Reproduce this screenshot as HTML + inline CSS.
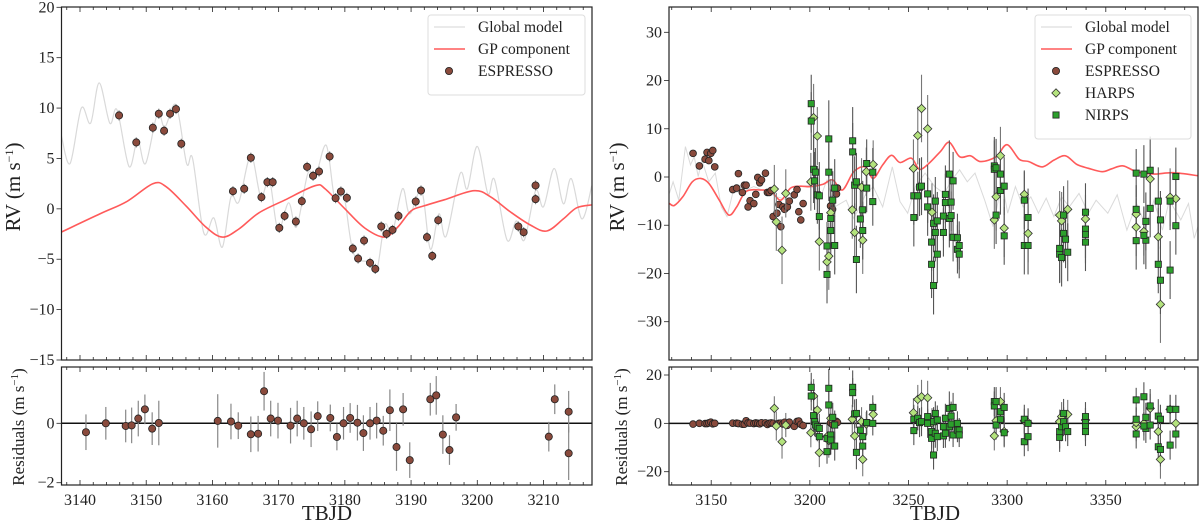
<!DOCTYPE html>
<html><head><meta charset="utf-8">
<style>
html,body{margin:0;padding:0;background:#fff;}
svg, svg text{font-family:"Liberation Serif","DejaVu Serif",serif;}
</style></head>
<body>
<svg id="fig" width="1200" height="524" viewBox="0 0 1200 524" xmlns="http://www.w3.org/2000/svg" font-family="Liberation Serif, serif"></svg>
<script>
// ===== LEFT PANEL DATA =====
const espLDays=[3145.9,3148.5,3151.0,3151.9,3152.7,3153.6,3154.5,3155.3,3163.1,3164.8,3165.8,3167.4,3168.3,3169.1,3170.1,3170.9,3172.6,3173.5,3174.3,3175.2,3176.1,3177.7,3178.6,3179.4,3180.3,3181.2,3182.0,3182.9,3183.8,3184.6,3185.5,3186.3,3187.2,3188.1,3190.7,3191.5,3192.4,3193.2,3194.1,3206.2,3207.0,3208.8,3208.8];
const espLRV=[9.27,6.59,8.05,9.44,7.75,9.44,9.9,6.46,1.75,1.99,5.07,1.16,2.65,2.65,-1.89,-0.70,-1.26,0.76,4.17,3.28,3.71,5.2,1.06,1.72,1.09,-3.94,-4.93,-3.15,-5.36,-5.96,-1.75,-2.48,-2.09,-0.70,0.73,1.82,-2.81,-4.67,-1.13,-1.75,-2.32,2.32,0.96];
const espResDays=[3140.9,3143.9,3146.9,3147.8,3148.8,3149.8,3150.9,3151.9,3160.8,3162.8,3163.9,3165.8,3166.9,3167.8,3168.8,3169.9,3171.8,3172.8,3173.8,3174.9,3175.9,3177.8,3178.8,3179.8,3180.8,3181.9,3182.8,3183.8,3184.8,3185.8,3186.8,3187.8,3188.8,3189.8,3192.9,3193.8,3194.8,3195.8,3196.8,3210.8,3211.7,3213.8,3213.8];
const espResVals=[-0.30,0,-0.09,-0.07,0.16,0.47,-0.18,0.01,0.08,0.06,-0.08,-0.37,-0.35,1.08,0.16,0.09,-0.08,0.16,0,-0.2,0.24,0.18,-0.46,0,0.18,0.02,-0.33,0,0.09,-0.25,0.44,-0.80,0.47,-1.24,0.81,0.94,-0.38,-0.90,0.20,-0.45,0.81,0.39,-1.01];
const espResErr=[0.6,0.55,0.55,0.6,0.6,0.5,0.55,0.75,0.9,0.6,0.45,0.6,0.6,0.65,0.6,0.6,0.6,0.6,0.55,0.6,0.5,0.45,0.45,0.55,0.5,0.6,0.6,0.55,0.6,0.5,0.7,0.8,0.55,0.6,0.55,0.65,0.65,0.5,0.45,0.5,0.5,0.7,0.9];
const espLErr=0.5;
const gpLDays=[3137.2,3143,3147,3151,3153,3156,3159,3161.5,3164,3167,3171,3175.5,3177,3180,3183,3186,3188,3190,3192,3195,3199.5,3202,3205,3208,3210.5,3213,3215,3217.4];
const gpLVals=[-2.3,-0.5,0.7,2.5,2.2,0.3,-1.8,-2.8,-2.0,-0.4,0.9,2.3,2.0,0.0,-1.9,-2.8,-1.8,-0.2,0.3,0.9,1.8,1.2,-0.3,-1.6,-2.2,-1.0,0.1,0.4];
const glLDays=[3137.2,3138.5,3140.2,3141.6,3142.9,3144.5,3145.6,3147.4,3148.7,3149.9,3151.7,3152.8,3154.5,3156.1,3157.0,3158.7,3160.2,3161.5,3162.8,3164.0,3165.8,3167.3,3168.6,3169.9,3171.5,3172.7,3174.4,3175.6,3177.2,3178.5,3179.8,3181.3,3183.7,3184.8,3186.0,3187.2,3188.7,3189.8,3191.6,3192.9,3194.2,3195.3,3197.4,3198.5,3200.0,3201.6,3202.6,3204.5,3205.9,3207.1,3208.8,3210.0,3211.6,3213.0,3214.2,3215.8,3217.3];
const glLVals=[7.2,4.5,10.0,8.5,12.5,8.5,9.8,4.2,6.8,4.5,9.5,8.1,10.3,4.5,5.0,-2.4,-0.9,-3.8,1.2,0.7,5.3,1.2,2.9,-2.1,0.6,-1.8,3.5,3.3,6.3,0.9,1.5,-4.4,-5.3,-6.2,-1.6,-2.3,2.0,-0.5,1.8,-4.0,-0.5,-2.7,3.5,2.0,6.2,1.5,2.9,-3.1,-1.2,-3.1,1.8,0.2,4.0,0.5,3.0,-1.0,2.3];
const lXTicks=[3140,3150,3160,3170,3180,3190,3200,3210];
const lYTicks=[-15,-10,-5,0,5,10,15,20];
const lRTicks=[-2,0];

// ===== RIGHT PANEL DATA =====
const espRDays=[3140.8,3144.0,3146.9,3147.9,3148.8,3149.8,3150.8,3151.8,3160.9,3162.9,3163.8,3165.8,3166.8,3167.7,3168.7,3169.7,3171.6,3172.6,3173.6,3174.6,3175.5,3177.5,3178.5,3179.4,3180.4,3181.4,3183.3,3184.3,3185.3,3186.3,3187.2,3188.6,3189.6,3192.1,3193.5,3194.4,3195.4,3196.6,3210.5,3211.5,3213.5,3214.0];
const espRRV=[4.9,2.3,3.7,5.1,3.4,4.9,5.5,2.1,-2.6,-2.3,0.7,-3.2,-1.7,-1.7,-6.2,-4.9,-5.5,-3.6,-0.1,-1.2,-0.6,0.8,-3.2,-3.2,-2.8,-8.2,-7.5,-5.7,-10.3,-6.2,-6.7,-6.2,-5.0,-3.7,-2.6,-7.2,-8.9,-5.5,-6.0,-6.7,-3.5,-2.3];
const harpsDays=[3182.0,3183.0,3187.8,3185.9,3200.5,3201.9,3203.8,3204.8,3208.7,3209.6,3210.6,3221.5,3222.7,3226.2,3226.8,3228.6,3232.1,3252.5,3254.7,3256.6,3259.7,3261.9,3293.5,3294.4,3296.6,3298.5,3308.7,3310.6,3326.6,3327.6,3330.7,3339.7,3365.4,3365.4,3369.3,3372.5,3376.6,3377.7,3382.6,3385.5];
const harpsRV=[-2.5,-9.3,-3.4,-15.2,-1.0,12.3,8.5,-13.4,-17.6,-16.4,-7.4,-6.8,-11.5,-2.1,-13.1,1.1,2.6,1.8,8.6,14.2,10.0,-7.3,-8.9,-4.1,4.4,-10.6,-3.6,-11.7,-7.9,-9.1,-6.7,-8.7,-7.7,-10.4,-11.3,-0.4,-12.4,-26.4,-4.2,-4.5];
const nirpsDays=[3200.7,3200.7,3201.9,3202.4,3202.8,3203.8,3204.8,3204.8,3208.7,3208.7,3209.6,3209.6,3210.6,3210.6,3211.6,3212.6,3212.6,3221.7,3221.7,3222.7,3223.6,3223.6,3225.6,3226.8,3226.8,3228.8,3228.8,3231.9,3231.9,3252.7,3252.7,3254.7,3255.6,3256.6,3259.7,3259.7,3261.7,3261.7,3262.7,3262.7,3263.6,3263.6,3264.6,3264.6,3267.7,3267.7,3268.7,3268.7,3270.7,3270.7,3271.6,3271.6,3272.6,3272.6,3274.8,3274.8,3275.7,3275.7,3293.5,3293.5,3294.4,3294.4,3296.6,3296.6,3298.5,3298.5,3308.7,3308.7,3310.6,3310.6,3326.6,3326.6,3327.6,3328.6,3328.6,3329.6,3330.7,3339.7,3339.7,3339.7,3339.7,3365.4,3365.4,3365.4,3369.3,3370.3,3370.3,3369.3,3372.5,3372.5,3376.6,3376.6,3377.7,3377.7,3382.6,3382.6,3385.5,3385.5];
const nirpsRV=[15.2,11.6,1.6,-0.8,1.0,-3.7,-3.9,-8.2,-14.3,-20.2,7.9,1.0,-8.6,-11.1,-4.8,-14.2,-2.3,7.5,5.2,-1.7,-1.0,-17.1,-8.7,-6.8,-11.1,2.8,-2.3,1.0,-5.1,-3.9,-8.4,-3.9,-2.1,-1.9,-3.5,-6.2,-13.5,-18.1,-9.6,-22.5,-5.0,-11.5,-9.1,-16.0,-11.5,-8.1,-5.3,-3.6,0.6,-8.6,-5.2,-8.0,-0.8,-12.5,-12.6,-15.0,-14.2,-16.0,2.3,1.6,1.9,-7.9,0.6,-2.8,-1.9,-12.2,-4.8,-14.2,-8.4,-14.2,-16.0,-14.8,-16.7,-7.9,-11.7,-12.9,-15.6,-7.3,-10.8,-11.9,-13.5,0.8,-6.7,-13.2,0.6,-9.2,-13.1,-12.1,1.4,-6.5,-5.0,-18.1,-8.9,-21.4,-5.0,-19.3,0.1,-10.1];
const nirpsResVals=[14.9,11.3,3.2,0.7,-0.7,-1.4,-5.5,-2.1,-11.7,-6.2,14.5,7.6,-4.8,-6.9,2.5,-9.4,-0.7,14.9,12.7,3.9,4.1,-12.0,-2.8,-5.5,-9.4,0.3,0.3,6.6,0,-3.0,1.7,2.1,0.3,0.7,2.8,0,-6.2,-3.4,-13.1,0.7,4.1,-4.1,1.4,-5.5,-5.2,-1.4,2.1,-4.1,6.2,-1.4,3.0,-0.3,6.6,-4.8,0,-2.8,-2.8,-4.8,9.0,7.2,9.0,-0.7,4.8,1.7,6.6,-3.9,1.7,-7.6,0,-5.5,-5.8,-3.4,-1.4,4.1,0.7,-1.4,-3.4,2.8,0.3,-1.4,-3.4,9.7,1.7,-4.4,11.0,2.5,-2.1,-1.1,7.2,-0.7,3.0,-9.7,1.7,-10.8,5.8,-9.0,5.8,-4.4];
const harpsResVals=[6.2,-1.1,-0.7,-7.6,-3.9,11.3,5.5,-12.1,-5.5,-7.2,2.1,1.7,-5.2,0.7,-14.9,-0.3,3.7,4.4,9.9,11.0,10.6,0.3,-5.2,1.1,9.0,-3.4,1.1,0.3,0.7,2.8,3.7,1.4,-1.4,0.3,0,6.2,-3.4,-14.9,5.8,0];
const nirpsErr=[6,6,7,6,5,6,7,6,5,6,8,6,6,6,6,6,6,7,6,6,6,7,6,6,6,5,5,5,5,6,6,5,6,6,6,6,6,7,6,6,5,6,6,6,5,5,6,6,7,6,6,5,6,5,5,5,5,5,6,6,6,6,5,5,6,6,6,6,6,6,6,7,6,6,6,6,6,6,6,6,6,5,5,6,6,6,6,6,7,6,7,6,6,7,6,6,6,6];
const harpsErr=[5,6,5,7,6,7,6,6,6,7,7,6,6,6,7,5,5,6,6,7,7,6,6,7,6,6,5,6,5,6,6,5,6,6,5,6,6,8,6,6];
const gpRDays=[3128.8,3131.3,3135.6,3140.4,3144.7,3148.8,3154.1,3158.9,3162.9,3167.7,3175.5,3180.4,3185.3,3190.2,3195.0,3200.5,3206.7,3211.6,3216.5,3222.3,3228.2,3232.1,3236.9,3241.4,3245.7,3251.5,3255.5,3260.3,3266.2,3270.7,3275.9,3281.4,3286.6,3294.4,3299.9,3306.1,3311.0,3317.8,3323.7,3329.5,3335.4,3341.2,3348.1,3353.0,3358.8,3365.6,3374.4,3384.2,3397.8];
const gpRVals=[-5.5,-5.9,-4.1,-1.0,-0.3,-1.3,-4.8,-7.9,-6.2,-3.0,-2.7,-3.0,-4.8,-2.3,-1.9,-2.0,-1.5,-0.6,-2.7,1.1,2.1,-0.3,2.5,4.5,3.0,3.9,1.6,2.8,5.3,7.2,4.2,4.4,3.2,4.2,6.7,3.7,3.2,2.1,3.5,4.4,2.6,1.8,1.1,1.7,2.3,1.1,0.6,0.9,0.2];
const glRDays=[3128.8,3130.7,3133.6,3136.9,3139.5,3141.4,3143.4,3145.3,3148.8,3152.1,3155.1,3158.0,3160.9,3163.8,3167.7,3171.6,3177.5,3183.3,3189.2,3195.0,3200.9,3204.8,3208.7,3212.6,3218.4,3222.3,3228.2,3232.1,3236.9,3241.8,3245.7,3249.6,3253.5,3258.4,3263.3,3268.1,3272.0,3275.9,3279.8,3283.7,3288.6,3292.9,3297.4,3300.3,3304.2,3308.1,3312.0,3315.9,3319.8,3323.7,3327.6,3331.5,3336.4,3341.2,3345.1,3351.0,3355.8,3360.7,3365.6,3370.5,3374.4,3378.7,3382.2,3388.0,3391.9,3394.8,3397.8];
const glRVals=[-3.4,-1.0,-4.8,6.3,2.5,4.2,0.1,3.5,-1.0,0.8,-6.2,-8.2,-3.4,-3.0,-2.7,-2.0,-3.0,-4.1,-4.8,-2.0,-1.7,-4.8,-0.6,-6.2,-4.8,-8.6,-3.7,-2.0,-6.2,2.1,-5.1,-7.5,-2.0,0.8,-2.0,-3.4,-0.6,1.5,-1.0,0.8,-4.8,-10.3,-1.0,-7.5,-2.0,-6.2,-4.1,-7.5,-4.4,-8.2,-4.1,-6.2,-3.4,-7.5,-4.8,-7.5,-3.7,-11.0,-5.5,-10.3,-4.8,-11.0,-4.8,-8.9,-5.5,-12.7,-8.9];
const rXTicks=[3150,3200,3250,3300,3350];
const rYTicks=[-30,-20,-10,0,10,20,30];
const rRTicks=[-20,0,20];

// ===== DRAWING =====
const NS="http://www.w3.org/2000/svg";
const FONT='Liberation Serif, DejaVu Serif, serif';
const svg=document.getElementById('fig');
function mk(tag,attrs,parent){const e=document.createElementNS(NS,tag);for(const k in attrs)e.setAttribute(k,attrs[k]);if(tag==='text')e.setAttribute('font-family',FONT);(parent||svg).appendChild(e);return e;}
function lin(d0,d1,p0,p1){return v=>p0+(v-d0)/(d1-d0)*(p1-p0);}
function smoothPath(xs,ys,sx,sy){
  const P=xs.map((x,i)=>[sx(x),sy(ys[i])]);
  let d='M'+P[0][0].toFixed(1)+','+P[0][1].toFixed(1);
  for(let i=0;i<P.length-1;i++){
    const p0=P[i-1]||P[i],p1=P[i],p2=P[i+1],p3=P[i+2]||p2;
    const c1=[p1[0]+(p2[0]-p0[0])/6,p1[1]+(p2[1]-p0[1])/6];
    const c2=[p2[0]-(p3[0]-p1[0])/6,p2[1]-(p3[1]-p1[1])/6];
    d+=' C'+c1[0].toFixed(1)+','+c1[1].toFixed(1)+' '+c2[0].toFixed(1)+','+c2[1].toFixed(1)+' '+p2[0].toFixed(1)+','+p2[1].toFixed(1);
  }
  return d;
}
function clip(id,x,y,w,h){const cp=mk('clipPath',{id:id});mk('rect',{x:x,y:y,width:w,height:h},cp);}
const BROWN='#8a4a3c', GREEN='#2ca02c', LGREEN='#b4e37d';

function circle(g,x,y,r,fill){return mk('circle',{cx:x,cy:y,r:r,fill:fill,stroke:'#222','stroke-width':0.8},g);}
function square(g,x,y,s,fill){return mk('rect',{x:x-s/2,y:y-s/2,width:s,height:s,fill:fill,stroke:'#222','stroke-width':0.8},g);}
function diamond(g,x,y,s,fill){return mk('polygon',{points:`${x},${y-s} ${x+s},${y} ${x},${y+s} ${x-s},${y}`,fill:fill,stroke:'#333','stroke-width':0.8},g);}

function frame(x0,x1,y0,y1,name){const r=mk('rect',{x:x0,y:y0,width:x1-x0,height:y1-y0,fill:'none',stroke:'#222','stroke-width':1.2});}

function xTicks(sx,y0,y1,major,minorStep,dmin,dmax,labels){
  for(let t=Math.ceil(dmin/minorStep)*minorStep;t<=dmax;t+=minorStep){
    const isMaj=major.includes(t);const len=isMaj?5:3;const x=sx(t);
    mk('line',{x1:x,x2:x,y1:y1,y2:y1-len,stroke:'#222','stroke-width':0.8});
    mk('line',{x1:x,x2:x,y1:y0,y2:y0+len,stroke:'#222','stroke-width':0.8});
  }
  if(labels){major.forEach(t=>{const tx=mk('text',{x:sx(t),y:y1+20,'font-size':16,'text-anchor':'middle',fill:'#222'});tx.textContent=t;
    });}
}
function yTicks(sy,x0,ticks){
  ticks.forEach(t=>{const y=sy(t);mk('line',{x1:x0,x2:x0-5,y1:y,y2:y,stroke:'#222','stroke-width':0.8});
    const tx=mk('text',{x:x0-7,y:y+5,'font-size':16,'text-anchor':'end',fill:'#222'});tx.textContent=(t<0?'\u2212'+(-t):t);
    });
}
function vlabel(cx,cy,html,name,size){const t=mk('text',{x:cx,y:cy,'font-size':size,'text-anchor':'middle',fill:'#222',transform:`rotate(-90 ${cx} ${cy})`});t.innerHTML=html;}

// ---------- LEFT ----------
const L={x0:61.5,x1:592,y0:7,y1:360,r0:367,r1:485};
const lsx=lin(3140,3210,80,543.5);
const lSy=lin(-15,20,360,7.3);
const lRy=lin(-2,0,482.7,423.3);
clip('cL',L.x0,L.y0,L.x1-L.x0,L.y1-L.y0);clip('cLR',L.x0,L.r0,L.x1-L.x0,L.r1-L.r0);
let g=mk('g',{'clip-path':'url(#cL)'});
let p=mk('path',{d:smoothPath(glLDays,glLVals,lsx,lSy),fill:'none',stroke:'#d9d9d9','stroke-width':1.2},g);

p=mk('path',{d:smoothPath(gpLDays,gpLVals,lsx,lSy),fill:'none',stroke:'#ff5a5a','stroke-width':1.6},g);

espLDays.forEach((d,i)=>{const x=lsx(d);mk('line',{x1:x,x2:x,y1:lSy(espLRV[i]-espLErr),y2:lSy(espLRV[i]+espLErr),stroke:'#888','stroke-width':1.2},g);
  const c=circle(g,x,lSy(espLRV[i]),3.6,BROWN);});
frame(L.x0,L.x1,L.y0,L.y1,'left-rv-axes');
xTicks(lsx,L.y0,L.y1,lXTicks,2,3138,3217,false);
yTicks(lSy,L.x0,lYTicks);
g=mk('g',{'clip-path':'url(#cLR)'});
mk('line',{x1:L.x0,x2:L.x1,y1:lRy(0),y2:lRy(0),stroke:'#111','stroke-width':1.5},g);
espResDays.forEach((d,i)=>{const x=lsx(d);mk('line',{x1:x,x2:x,y1:lRy(espResVals[i]-espResErr[i]),y2:lRy(espResVals[i]+espResErr[i]),stroke:'#888','stroke-width':1.2},g);
  const c=circle(g,x,lRy(espResVals[i]),3.6,BROWN);});
frame(L.x0,L.x1,L.r0,L.r1,'left-residual-axes');
xTicks(lsx,L.r0,L.r1,lXTicks,2,3138,3217,true);
yTicks(lRy,L.x0,lRTicks);
vlabel(20,187,'RV (m s<tspan dy="-7" font-size="12">\u22121</tspan><tspan dy="7">)</tspan>','left-y-axis-title',21);
vlabel(24,427,'Residuals (m s<tspan dy="-6" font-size="11">\u22121</tspan><tspan dy="6">)</tspan>','left-residual-axis-title',17);
let t=mk('text',{x:327,y:520,'font-size':21,'text-anchor':'middle',fill:'#222'});t.textContent='TBJD';

// ---------- RIGHT ----------
const R={x0:669,x1:1198,y0:7,y1:360,r0:367,r1:485};
const rsx=lin(3150,3350,711.2,1105.8);
const rSy=lin(-30,30,321.7,32.3);
const rRy=lin(-20,20,471.7,375);
clip('cR',R.x0,R.y0,R.x1-R.x0,R.y1-R.y0);clip('cRR',R.x0,R.r0,R.x1-R.x0,R.r1-R.r0);
g=mk('g',{'clip-path':'url(#cR)'});
p=mk('path',{d:'M'+glRDays.map((d,i)=>rsx(d).toFixed(1)+','+rSy(glRVals[i]).toFixed(1)).join(' L'),fill:'none',stroke:'#dadada','stroke-width':1},g);

p=mk('path',{d:smoothPath(gpRDays,gpRVals,rsx,rSy),fill:'none',stroke:'#ff5a5a','stroke-width':1.6},g);

espRDays.forEach((d,i)=>{const c=circle(g,rsx(d),rSy(espRRV[i]),3.4,BROWN);});
harpsDays.forEach((d,i)=>{const x=rsx(d);mk('line',{x1:x,x2:x,y1:rSy(harpsRV[i]-harpsErr[i]),y2:rSy(harpsRV[i]+harpsErr[i]),stroke:'#777','stroke-width':1.1},g);});
nirpsDays.forEach((d,i)=>{const x=rsx(d);mk('line',{x1:x,x2:x,y1:rSy(nirpsRV[i]-nirpsErr[i]),y2:rSy(nirpsRV[i]+nirpsErr[i]),stroke:'#555','stroke-width':1.1},g);});
harpsDays.forEach((d,i)=>{const m=diamond(g,rsx(d),rSy(harpsRV[i]),4.2,LGREEN);});
nirpsDays.forEach((d,i)=>{const m=square(g,rsx(d),rSy(nirpsRV[i]),6.2,GREEN);});
frame(R.x0,R.x1,R.y0,R.y1,'right-rv-axes');
xTicks(rsx,R.y0,R.y1,rXTicks,10,3130,3396,false);
yTicks(rSy,R.x0,rYTicks);
g=mk('g',{'clip-path':'url(#cRR)'});
mk('line',{x1:R.x0,x2:R.x1,y1:rRy(0),y2:rRy(0),stroke:'#111','stroke-width':1.5},g);
harpsDays.forEach((d,i)=>{const x=rsx(d);mk('line',{x1:x,x2:x,y1:rRy(harpsResVals[i]-harpsErr[i]),y2:rRy(harpsResVals[i]+harpsErr[i]),stroke:'#777','stroke-width':1.1},g);});
nirpsDays.forEach((d,i)=>{const x=rsx(d);mk('line',{x1:x,x2:x,y1:rRy(nirpsResVals[i]-nirpsErr[i]),y2:rRy(nirpsResVals[i]+nirpsErr[i]),stroke:'#555','stroke-width':1.1},g);});
espRDays.forEach((d,i)=>{const c=circle(g,rsx(d),rRy(espResVals[i]||0),3.4,BROWN);});
harpsDays.forEach((d,i)=>{const m=diamond(g,rsx(d),rRy(harpsResVals[i]),4.2,LGREEN);});
nirpsDays.forEach((d,i)=>{const m=square(g,rsx(d),rRy(nirpsResVals[i]),6.2,GREEN);});
frame(R.x0,R.x1,R.r0,R.r1,'right-residual-axes');
xTicks(rsx,R.r0,R.r1,rXTicks,10,3130,3396,true);
yTicks(rRy,R.x0,rRTicks);
vlabel(624,187,'RV (m s<tspan dy="-7" font-size="12">\u22121</tspan><tspan dy="7">)</tspan>','right-y-axis-title',21);
vlabel(627,427,'Residuals (m s<tspan dy="-6" font-size="11">\u22121</tspan><tspan dy="6">)</tspan>','right-residual-axis-title',17);
t=mk('text',{x:935,y:520,'font-size':21,'text-anchor':'middle',fill:'#222'});t.textContent='TBJD';

// ---------- LEGENDS ----------
function legend(x0,x1,y0,entries,name){
  const lg=mk('g',{});
  mk('rect',{x:x0,y:y0,width:x1-x0,height:entries.length*22+14,rx:3,fill:'rgba(255,255,255,0.85)',stroke:'#ddd','stroke-width':1},lg);
  entries.forEach((e,i)=>{
    const y=y0+12+i*22,lx=x0+6,mx=x0+21;
    const eg=mk('g',{},lg);
    if(e[0]==='grey')mk('line',{x1:lx,x2:lx+31,y1:y,y2:y,stroke:'#ddd','stroke-width':1.3},eg);
    if(e[0]==='red')mk('line',{x1:lx,x2:lx+31,y1:y,y2:y,stroke:'#ff5a5a','stroke-width':1.6},eg);
    if(e[0]==='c')circle(eg,mx,y,3.6,BROWN);
    if(e[0]==='d')diamond(eg,mx,y,4.2,LGREEN);
    if(e[0]==='s')square(eg,mx,y,6.2,GREEN);
    const tx=mk('text',{x:x0+50,y:y+5,'font-size':15.5,fill:'#222'},eg);tx.textContent=e[1];
  });
}
legend(428,585,15,[['grey','Global model'],['red','GP component'],['c','ESPRESSO']],'left-legend');
legend(1035,1191,15,[['grey','Global model'],['red','GP component'],['c','ESPRESSO'],['d','HARPS'],['s','NIRPS']],'right-legend');
</script>
</body></html>
